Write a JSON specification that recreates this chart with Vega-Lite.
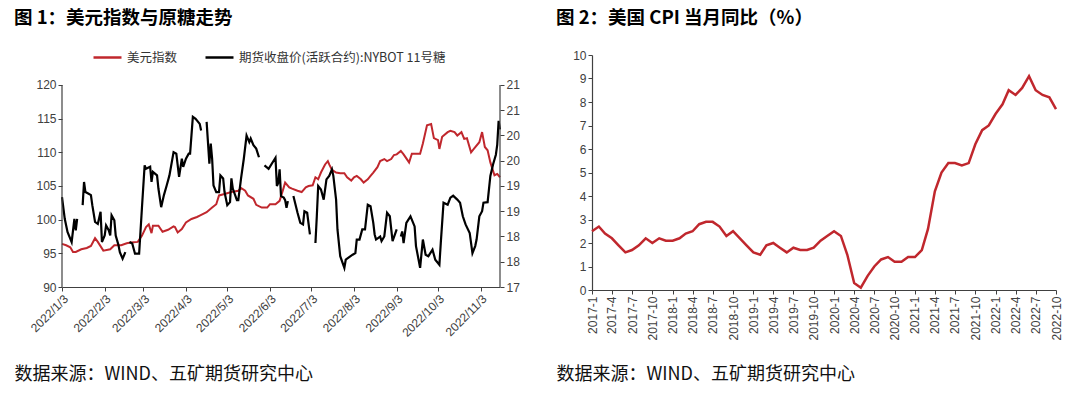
{
"$schema": "https://vega.github.io/schema/vega-lite/v6.json",
"background": "white",
"padding": {"left": 14, "top": 8, "right": 0, "bottom": 0},
"spacing": 92,
"bounds": "flush",
"datasets": {
"dxy": [
{"date":"2022-01-03","v":96.4},{"date":"2022-01-06","v":96.2},{"date":"2022-01-09","v":95.9},{"date":"2022-01-11","v":95.2},{"date":"2022-01-13","v":95.2},{"date":"2022-01-17","v":95.6},{"date":"2022-01-21","v":95.8},{"date":"2022-01-24","v":96.1},{"date":"2022-01-27","v":97.25},{"date":"2022-01-29","v":96.7},
{"date":"2022-02-02","v":95.4},{"date":"2022-02-07","v":95.6},{"date":"2022-02-10","v":96.2},{"date":"2022-02-15","v":96.2},{"date":"2022-02-19","v":96.5},{"date":"2022-02-22","v":96.6},{"date":"2022-02-27","v":96.7},
{"date":"2022-03-02","v":97.6},{"date":"2022-03-05","v":98.9},{"date":"2022-03-07","v":99.3},{"date":"2022-03-09","v":98.0},{"date":"2022-03-10","v":99.1},{"date":"2022-03-14","v":99.1},{"date":"2022-03-17","v":98.2},{"date":"2022-03-21","v":98.5},{"date":"2022-03-25","v":99.0},{"date":"2022-03-26","v":98.9},{"date":"2022-03-28","v":98.1},{"date":"2022-03-31","v":98.6},
{"date":"2022-04-03","v":99.6},{"date":"2022-04-07","v":100.1},{"date":"2022-04-11","v":100.4},{"date":"2022-04-13","v":100.6},{"date":"2022-04-18","v":101.1},{"date":"2022-04-22","v":101.8},{"date":"2022-04-25","v":102.3},{"date":"2022-04-27","v":103.6},
{"date":"2022-05-01","v":103.8},{"date":"2022-05-06","v":104.1},{"date":"2022-05-11","v":104.3},{"date":"2022-05-13","v":104.7},{"date":"2022-05-16","v":104.3},{"date":"2022-05-18","v":103.6},{"date":"2022-05-22","v":103.1},{"date":"2022-05-24","v":102.2},{"date":"2022-05-28","v":101.8},
{"date":"2022-06-01","v":101.8},{"date":"2022-06-03","v":102.3},{"date":"2022-06-07","v":102.3},{"date":"2022-06-10","v":102.8},{"date":"2022-06-13","v":104.8},{"date":"2022-06-14","v":105.5},{"date":"2022-06-17","v":104.8},{"date":"2022-06-19","v":104.6},{"date":"2022-06-23","v":104.3},{"date":"2022-06-26","v":104.1},{"date":"2022-06-29","v":104.8},
{"date":"2022-07-01","v":105.0},{"date":"2022-07-04","v":105.1},{"date":"2022-07-06","v":106.3},{"date":"2022-07-08","v":106.0},{"date":"2022-07-10","v":107.0},{"date":"2022-07-13","v":108.2},{"date":"2022-07-15","v":108.7},{"date":"2022-07-16","v":108.2},{"date":"2022-07-18","v":107.4},{"date":"2022-07-21","v":107.0},{"date":"2022-07-24","v":106.9},{"date":"2022-07-27","v":106.9},{"date":"2022-07-29","v":106.3},
{"date":"2022-08-01","v":105.8},{"date":"2022-08-03","v":106.3},{"date":"2022-08-05","v":106.5},{"date":"2022-08-08","v":106.0},{"date":"2022-08-10","v":105.5},{"date":"2022-08-13","v":106.0},{"date":"2022-08-15","v":106.5},{"date":"2022-08-17","v":107.0},{"date":"2022-08-20","v":107.8},{"date":"2022-08-22","v":108.7},{"date":"2022-08-25","v":109.0},{"date":"2022-08-27","v":108.7},{"date":"2022-08-30","v":109.0},
{"date":"2022-09-01","v":109.6},{"date":"2022-09-03","v":109.7},{"date":"2022-09-06","v":110.2},{"date":"2022-09-08","v":109.7},{"date":"2022-09-12","v":108.5},{"date":"2022-09-14","v":109.8},{"date":"2022-09-20","v":109.8},{"date":"2022-09-22","v":111.3},{"date":"2022-09-25","v":114.0},{"date":"2022-09-28","v":114.2},{"date":"2022-09-30","v":112.1},
{"date":"2022-10-03","v":111.8},{"date":"2022-10-04","v":110.5},{"date":"2022-10-06","v":112.3},{"date":"2022-10-10","v":113.0},{"date":"2022-10-12","v":113.2},{"date":"2022-10-15","v":113.0},{"date":"2022-10-17","v":112.5},{"date":"2022-10-20","v":113.0},{"date":"2022-10-22","v":112.0},{"date":"2022-10-24","v":112.1},{"date":"2022-10-27","v":110.0},{"date":"2022-10-29","v":110.5},
{"date":"2022-11-02","v":111.5},{"date":"2022-11-04","v":113.0},{"date":"2022-11-06","v":110.8},{"date":"2022-11-08","v":110.3},{"date":"2022-11-10","v":108.5},{"date":"2022-11-13","v":106.6},{"date":"2022-11-15","v":106.8},{"date":"2022-11-17","v":106.3}
],
"sugar": [
{"date":"2022-01-03","v":18.78},{"date":"2022-01-05","v":18.35},{"date":"2022-01-07","v":18.09},{"date":"2022-01-10","v":17.89},{"date":"2022-01-12","v":18.35},{"date":"2022-01-13","v":18.12},{"date":"2022-01-14","v":18.35},{"date":"2022-01-16","v":null},
{"date":"2022-01-18","v":18.62},{"date":"2022-01-19","v":19.08},{"date":"2022-01-20","v":18.88},{"date":"2022-01-22","v":18.85},{"date":"2022-01-24","v":18.82},{"date":"2022-01-25","v":18.62},{"date":"2022-01-27","v":18.29},{"date":"2022-01-29","v":18.25},{"date":"2022-01-31","v":18.49},{"date":"2022-02-01","v":17.89},{"date":"2022-02-03","v":18.02},{"date":"2022-02-04","v":18.22},{"date":"2022-02-06","v":18.12},{"date":"2022-02-07","v":18.02},{"date":"2022-02-08","v":18.42},{"date":"2022-02-10","v":18.32},{"date":"2022-02-11","v":18.02},{"date":"2022-02-13","v":17.83},{"date":"2022-02-14","v":17.69},{"date":"2022-02-16","v":17.56},{"date":"2022-02-18","v":17.69},{"date":"2022-02-20","v":null},
{"date":"2022-02-21","v":17.89},{"date":"2022-02-23","v":17.86},{"date":"2022-02-25","v":17.66},{"date":"2022-02-28","v":17.66},{"date":"2022-03-02","v":18.55},{"date":"2022-03-04","v":19.41},{"date":"2022-03-05","v":19.34},{"date":"2022-03-08","v":19.38},{"date":"2022-03-09","v":19.08},{"date":"2022-03-10","v":19.28},{"date":"2022-03-13","v":19.21},{"date":"2022-03-14","v":18.95},{"date":"2022-03-16","v":18.58},{"date":"2022-03-18","v":18.82},{"date":"2022-03-20","v":19.01},{"date":"2022-03-22","v":19.21},{"date":"2022-03-25","v":19.67},{"date":"2022-03-27","v":19.64},{"date":"2022-03-29","v":19.18},{"date":"2022-03-31","v":19.54},{"date":"2022-04-01","v":19.38},{"date":"2022-04-03","v":19.54},{"date":"2022-04-05","v":19.64},{"date":"2022-04-06","v":19.64},{"date":"2022-04-08","v":20.37},{"date":"2022-04-10","v":20.33},{"date":"2022-04-13","v":20.23},{"date":"2022-04-14","v":20.10},{"date":"2022-04-16","v":null},
{"date":"2022-04-18","v":20.27},{"date":"2022-04-20","v":19.44},{"date":"2022-04-21","v":19.84},{"date":"2022-04-22","v":19.54},{"date":"2022-04-23","v":19.01},{"date":"2022-04-25","v":18.88},{"date":"2022-04-27","v":18.88},{"date":"2022-04-28","v":19.21},{"date":"2022-04-30","v":19.15},{"date":"2022-05-01","v":18.88},{"date":"2022-05-03","v":18.62},{"date":"2022-05-05","v":18.68},{"date":"2022-05-06","v":19.15},{"date":"2022-05-07","v":18.95},{"date":"2022-05-10","v":18.72},{"date":"2022-05-11","v":18.72},{"date":"2022-05-13","v":19.15},{"date":"2022-05-15","v":19.54},{"date":"2022-05-17","v":20.00},{"date":"2022-05-19","v":19.87},{"date":"2022-05-20","v":19.94},{"date":"2022-05-22","v":19.81},{"date":"2022-05-24","v":19.74},{"date":"2022-05-26","v":19.57},{"date":"2022-05-28","v":null},
{"date":"2022-05-30","v":19.41},{"date":"2022-06-02","v":19.34},{"date":"2022-06-07","v":19.56},{"date":"2022-06-08","v":19.00},{"date":"2022-06-09","v":19.06},{"date":"2022-06-10","v":19.33},{"date":"2022-06-11","v":18.80},{"date":"2022-06-13","v":18.77},{"date":"2022-06-14","v":18.72},{"date":"2022-06-15","v":18.57},{"date":"2022-06-16","v":18.70},{"date":"2022-06-18","v":null},
{"date":"2022-06-20","v":18.80},{"date":"2022-06-23","v":18.47},{"date":"2022-06-25","v":18.27},{"date":"2022-06-27","v":18.24},{"date":"2022-06-28","v":18.50},{"date":"2022-06-30","v":18.47},{"date":"2022-07-02","v":18.04},{"date":"2022-07-04","v":null},
{"date":"2022-07-06","v":17.87},{"date":"2022-07-07","v":18.40},{"date":"2022-07-08","v":19.00},{"date":"2022-07-10","v":18.93},{"date":"2022-07-12","v":18.73},{"date":"2022-07-14","v":19.13},{"date":"2022-07-16","v":19.20},{"date":"2022-07-18","v":19.33},{"date":"2022-07-19","v":19.20},{"date":"2022-07-21","v":18.73},{"date":"2022-07-22","v":18.14},{"date":"2022-07-24","v":17.61},{"date":"2022-07-27","v":17.38},{"date":"2022-07-28","v":17.54},{"date":"2022-07-30","v":17.58},{"date":"2022-08-02","v":17.64},{"date":"2022-08-04","v":17.67},{"date":"2022-08-05","v":17.94},{"date":"2022-08-07","v":17.94},{"date":"2022-08-09","v":18.14},{"date":"2022-08-11","v":18.14},{"date":"2022-08-13","v":18.63},{"date":"2022-08-15","v":18.60},{"date":"2022-08-17","v":18.27},{"date":"2022-08-18","v":18.04},{"date":"2022-08-19","v":17.94},{"date":"2022-08-22","v":18.00},{"date":"2022-08-23","v":17.91},{"date":"2022-08-25","v":18.00},{"date":"2022-08-27","v":18.47},{"date":"2022-08-29","v":18.40},{"date":"2022-08-31","v":17.91},{"date":"2022-09-03","v":18.14},{"date":"2022-09-04","v":null},
{"date":"2022-09-06","v":18.00},{"date":"2022-09-07","v":18.10},{"date":"2022-09-08","v":17.87},{"date":"2022-09-10","v":18.27},{"date":"2022-09-13","v":18.40},{"date":"2022-09-16","v":18.20},{"date":"2022-09-17","v":17.81},{"date":"2022-09-20","v":17.38},{"date":"2022-09-22","v":17.94},{"date":"2022-09-24","v":17.64},{"date":"2022-09-26","v":17.61},{"date":"2022-09-29","v":17.74},{"date":"2022-10-01","v":17.54},{"date":"2022-10-04","v":17.44},{"date":"2022-10-05","v":17.87},{"date":"2022-10-07","v":18.67},{"date":"2022-10-10","v":18.63},{"date":"2022-10-12","v":18.77},{"date":"2022-10-14","v":18.81},{"date":"2022-10-17","v":18.73},{"date":"2022-10-19","v":18.67},{"date":"2022-10-21","v":18.40},{"date":"2022-10-23","v":18.24},{"date":"2022-10-26","v":18.07},{"date":"2022-10-28","v":17.67},{"date":"2022-10-30","v":17.81},{"date":"2022-10-31","v":17.94},{"date":"2022-11-02","v":18.40},{"date":"2022-11-04","v":18.50},{"date":"2022-11-05","v":18.67},{"date":"2022-11-08","v":18.68},{"date":"2022-11-10","v":19.20},{"date":"2022-11-12","v":19.43},{"date":"2022-11-14","v":19.62},{"date":"2022-11-15","v":19.82},{"date":"2022-11-16","v":20.29},{"date":"2022-11-17","v":20.12}
],
"edges": [{"date":"2022-01-03"},{"date":"2022-11-17"}],
"cpi": [
{"date":"2017-01-01","v":2.5},{"date":"2017-02-01","v":2.7},{"date":"2017-03-01","v":2.4},{"date":"2017-04-01","v":2.2},{"date":"2017-05-01","v":1.9},{"date":"2017-06-01","v":1.6},{"date":"2017-07-01","v":1.7},{"date":"2017-08-01","v":1.9},{"date":"2017-09-01","v":2.2},{"date":"2017-10-01","v":2.0},{"date":"2017-11-01","v":2.2},{"date":"2017-12-01","v":2.1},
{"date":"2018-01-01","v":2.1},{"date":"2018-02-01","v":2.2},{"date":"2018-03-01","v":2.4},{"date":"2018-04-01","v":2.5},{"date":"2018-05-01","v":2.8},{"date":"2018-06-01","v":2.9},{"date":"2018-07-01","v":2.9},{"date":"2018-08-01","v":2.7},{"date":"2018-09-01","v":2.3},{"date":"2018-10-01","v":2.5},{"date":"2018-11-01","v":2.2},{"date":"2018-12-01","v":1.9},
{"date":"2019-01-01","v":1.6},{"date":"2019-02-01","v":1.5},{"date":"2019-03-01","v":1.9},{"date":"2019-04-01","v":2.0},{"date":"2019-05-01","v":1.8},{"date":"2019-06-01","v":1.6},{"date":"2019-07-01","v":1.8},{"date":"2019-08-01","v":1.7},{"date":"2019-09-01","v":1.7},{"date":"2019-10-01","v":1.8},{"date":"2019-11-01","v":2.1},{"date":"2019-12-01","v":2.3},
{"date":"2020-01-01","v":2.5},{"date":"2020-02-01","v":2.3},{"date":"2020-03-01","v":1.5},{"date":"2020-04-01","v":0.3},{"date":"2020-05-01","v":0.1},{"date":"2020-06-01","v":0.6},{"date":"2020-07-01","v":1.0},{"date":"2020-08-01","v":1.3},{"date":"2020-09-01","v":1.4},{"date":"2020-10-01","v":1.2},{"date":"2020-11-01","v":1.2},{"date":"2020-12-01","v":1.4},
{"date":"2021-01-01","v":1.4},{"date":"2021-02-01","v":1.7},{"date":"2021-03-01","v":2.6},{"date":"2021-04-01","v":4.2},{"date":"2021-05-01","v":5.0},{"date":"2021-06-01","v":5.4},{"date":"2021-07-01","v":5.4},{"date":"2021-08-01","v":5.3},{"date":"2021-09-01","v":5.4},{"date":"2021-10-01","v":6.2},{"date":"2021-11-01","v":6.8},{"date":"2021-12-01","v":7.0},
{"date":"2022-01-01","v":7.5},{"date":"2022-02-01","v":7.9},{"date":"2022-03-01","v":8.5},{"date":"2022-04-01","v":8.3},{"date":"2022-05-01","v":8.6},{"date":"2022-06-01","v":9.1},{"date":"2022-07-01","v":8.5},{"date":"2022-08-01","v":8.3},{"date":"2022-09-01","v":8.2},{"date":"2022-10-01","v":7.7}
]
},
"hconcat": [
{
"width": 438,
"height": 232,
"title": {"text": "图 1：美元指数与原糖走势", "anchor": "start", "frame": "group", "dx": -48, "offset": 28, "font": "Noto Sans CJK SC", "fontSize": 18.5, "fontWeight": "bold", "color": "#000000"},
"layer": [
{
"data": {"name": "dxy"},
"mark": {"type": "line", "strokeWidth": 2},
"encoding": {
"x": {"field": "date", "type": "temporal",
"scale": {"type": "utc", "domain": [{"year": 2022, "month": 1, "date": 3, "utc": true}, {"year": 2022, "month": 11, "date": 17, "utc": true}]},
"axis": {"values": [{"year":2022,"month":1,"date":3,"utc":true},{"year":2022,"month":2,"date":3,"utc":true},{"year":2022,"month":3,"date":3,"utc":true},{"year":2022,"month":4,"date":3,"utc":true},{"year":2022,"month":5,"date":3,"utc":true},{"year":2022,"month":6,"date":3,"utc":true},{"year":2022,"month":7,"date":3,"utc":true},{"year":2022,"month":8,"date":3,"utc":true},{"year":2022,"month":9,"date":3,"utc":true},{"year":2022,"month":10,"date":3,"utc":true},{"year":2022,"month":11,"date":3,"utc":true}],
"format": "%Y/%-m/%-d", "labelAngle": -45, "labelFontSize": 12, "labelOverlap": false,
"title": "数据来源：WIND、五矿期货研究中心", "titleAnchor": "start", "titleAlign": "left", "titleX": -48, "titleY": 92, "titleBaseline": "alphabetic", "titleAngle": 0}
},
"y": {"field": "v", "type": "quantitative", "scale": {"domain": [90, 124.455], "nice": false, "zero": false},
"axis": {"orient": "left", "values": [90, 95, 100, 105, 110, 115, 120], "domain": false, "title": null}},
"color": {"datum": "美元指数", "type": "nominal",
"scale": {"domain": ["美元指数", "期货收盘价(活跃合约):NYBOT 11号糖"], "range": ["#C0272D", "#000000"]},
"legend": {"orient": "none", "legendX": 30, "legendY": -13, "direction": "horizontal", "title": null, "symbolType": "stroke", "symbolSize": 784, "symbolStrokeWidth": 2.5, "labelFont": "Noto Sans CJK SC", "labelFontSize": 12.5, "labelColor": "#333333", "columnPadding": 22, "labelOffset": 4, "labelLimit": 400}}
}
},
{
"data": {"name": "sugar"},
"mark": {"type": "line", "strokeWidth": 2.2, "invalid": "break-paths-show-domains"},
"encoding": {
"x": {"field": "date", "type": "temporal"},
"y": {"field": "v", "type": "quantitative", "scale": {"domain": [17, 21.594], "nice": false, "zero": false},
"axis": {"orient": "right", "values": [17, 17.5, 18, 18.5, 19, 19.5, 20, 20.5, 21], "format": ".0f", "domain": false, "title": null}},
"color": {"datum": "期货收盘价(活跃合约):NYBOT 11号糖", "type": "nominal"}
}
},
{
"data": {"name": "edges"},
"mark": {"type": "rule", "color": "#404040", "strokeWidth": 1.2},
"encoding": {
"x": {"field": "date", "type": "temporal"},
"y": {"datum": 90, "type": "quantitative", "scale": {"domain": [90, 124.455], "nice": false, "zero": false}, "axis": null},
"y2": {"datum": 120}
}
}
],
"resolve": {"scale": {"y": "independent"}}
},
{
"width": 464,
"height": 235,
"title": {"text": "图 2：美国 CPI 当月同比（%）", "anchor": "start", "frame": "group", "dx": -36, "offset": 22, "font": "Noto Sans CJK SC", "fontSize": 18.5, "fontWeight": "bold", "color": "#000000"},
"data": {"name": "cpi"},
"mark": {"type": "line", "color": "#C0272D", "strokeWidth": 2.5},
"encoding": {
"x": {"field": "date", "type": "temporal",
"scale": {"type": "utc", "domain": [{"year": 2017, "month": 1, "date": 1, "utc": true}, {"year": 2022, "month": 10, "date": 1, "utc": true}]},
"axis": {"tickCount": {"interval": "month", "step": 3}, "format": "%Y-%-m", "labelAngle": -90, "labelFontSize": 12, "labelOverlap": false,
"title": "数据来源：WIND、五矿期货研究中心", "titleAnchor": "start", "titleAlign": "left", "titleX": -36, "titleY": 89, "titleBaseline": "alphabetic", "titleAngle": 0}},
"y": {"field": "v", "type": "quantitative", "scale": {"domain": [0, 10], "nice": false},
"axis": {"values": [0, 1, 2, 3, 4, 5, 6, 7, 8, 9, 10], "title": null}}
}
}
],
"config": {
"view": {"stroke": null},
"axis": {"grid": false, "domainColor": "#404040", "tickColor": "#404040", "labelColor": "#404040", "labelFont": "Liberation Sans", "labelFontSize": 12, "tickSize": 4, "domainWidth": 1.2,
"titleFont": "Noto Sans CJK SC", "titleFontSize": 18, "titleFontWeight": "normal", "titleColor": "#111111"}
}
}
